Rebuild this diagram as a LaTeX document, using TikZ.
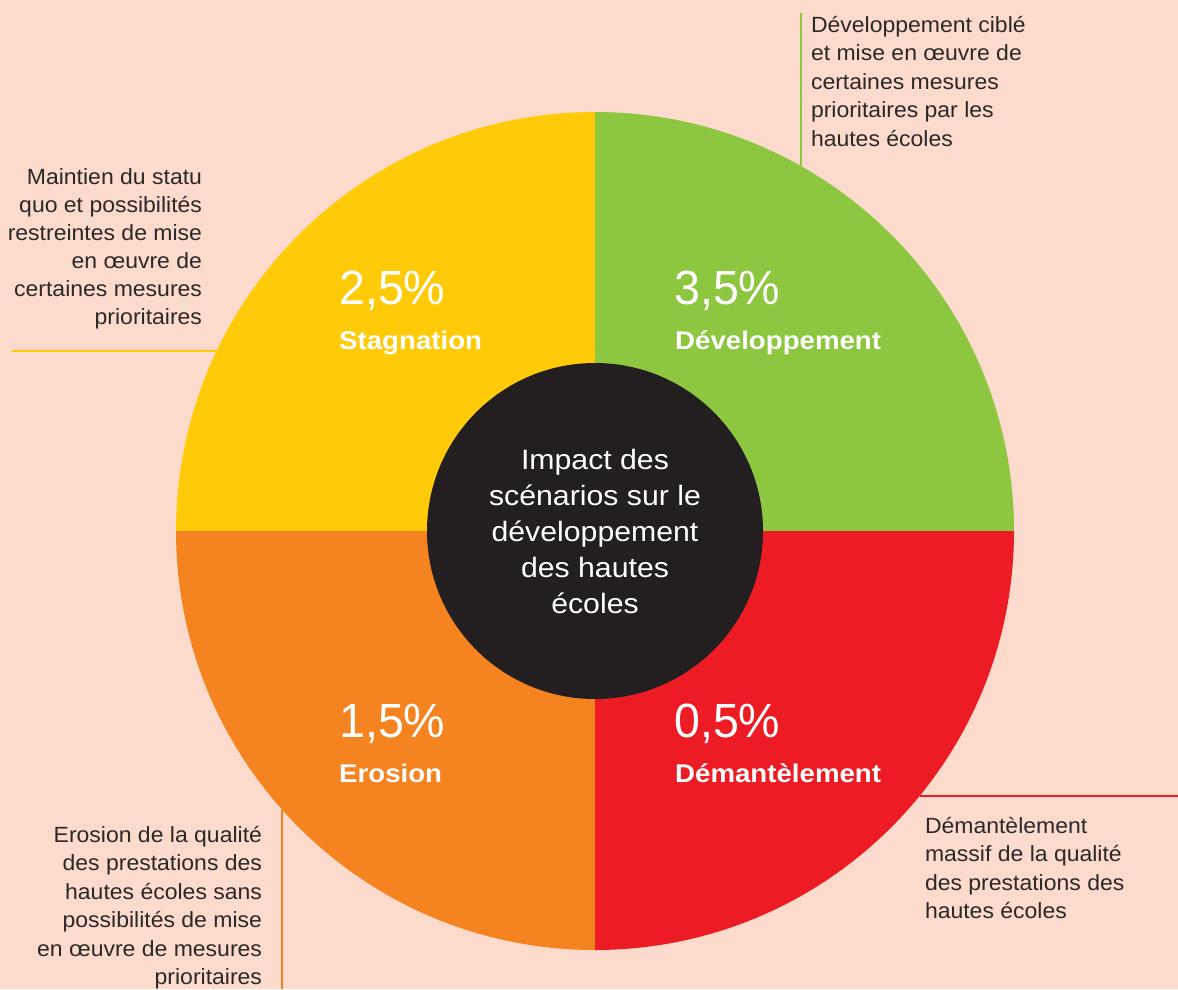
\documentclass[tikz,border=0pt]{standalone}
\usepackage{fontspec}
\setmainfont{Liberation Sans}[FakeStretch=1.08]
\newfontfamily\numfont{Liberation Sans}[FakeStretch=0.97]
\newfontfamily\descfont{Liberation Sans}[FakeStretch=1.045]
\usetikzlibrary{calc}
\definecolor{bgpeach}{HTML}{FDDBCC}
\definecolor{qyellow}{HTML}{FFCB08}
\definecolor{qgreen}{HTML}{8DC63F}
\definecolor{qred}{HTML}{ED1C24}
\definecolor{qorange}{HTML}{F58320}
\definecolor{hubblack}{HTML}{231F20}
\definecolor{txtdark}{HTML}{2A2828}
\begin{document}
\begin{tikzpicture}[x=1pt,y=1pt,
  desc/.style={inner sep=0pt, outer sep=0pt, text=txtdark, font=\descfont\fontsize{22}{28.5}\selectfont},
  pct/.style={inner sep=0pt, text=white, anchor=base west, font=\numfont\fontsize{48}{48}\selectfont},
  scen/.style={inner sep=0pt, text=white, anchor=base west, font=\bfseries\fontsize{25.6}{26}\selectfont},
  lead/.style={line width=2pt}]
\fill[bgpeach] (0,0) rectangle (1178,-989);
\useasboundingbox (0,0) rectangle (1178,-989);
\coordinate (C) at (595,-531);
% quadrants
\fill[qgreen]  (C) -- ++(419,0)  arc[start angle=0,   end angle=90,  radius=419] -- cycle;
\fill[qyellow] (C) -- ++(0,419)  arc[start angle=90,  end angle=180, radius=419] -- cycle;
\fill[qorange] (C) -- ++(-419,0) arc[start angle=180, end angle=270, radius=419] -- cycle;
\fill[qred]    (C) -- ++(0,-419) arc[start angle=270, end angle=360, radius=419] -- cycle;
% hub
\node[circle, fill=hubblack, minimum size=336pt, inner sep=0pt, text=white, align=center,
      font=\fontsize{28}{36}\selectfont] (hub) at (C)
  {Impact des\\scénarios sur le\\développement\\des hautes\\écoles};
% leader lines
\coordinate (gIn) at (801,-166);  \coordinate (gOut) at (801,-13);
\coordinate (yIn) at (217,-350.7); \coordinate (yOut) at (12,-350.7);
\coordinate (rIn) at (920,-796);  \coordinate (rOut) at (1178,-796);
\coordinate (oIn) at (282,-810);  \coordinate (oOut) at (282,-989);
\draw[lead, qgreen]  (gIn) -- (gOut);
\draw[lead, qyellow] (yIn) -- (yOut);
\draw[lead, qred]    (rIn) -- (rOut);
\draw[lead, qorange] (oIn) -- (oOut);
% descriptions
\node[desc, anchor=north west, align=left] (gtxt) at (811,-16)
  {Développement ciblé\\et mise en œuvre de\\certaines mesures\\prioritaires par les\\hautes écoles};
\node[desc, anchor=north east, align=right, font=\descfont\fontsize{22}{28}\selectfont] (ytxt) at (202,-169)
  {Maintien du statu\\quo et possibilités\\restreintes de mise\\en œuvre de\\certaines mesures\\prioritaires};
\node[desc, anchor=north west, align=left] (rtxt) at (925,-817)
  {Démantèlement\\massif de la qualité\\des prestations des\\hautes écoles};
\node[desc, anchor=north east, align=right] (otxt) at (262,-826)
  {Erosion de la qualité\\des prestations des\\hautes écoles sans\\possibilités de mise\\en œuvre de mesures\\prioritaires};
% quadrant labels
\node[pct]  (p1) at (339,-304) {2,5\%};
\node[scen] (s1) at (339,-349) {Stagnation};
\node[pct]  (p2) at (674,-304) {3,5\%};
\node[scen] (s2) at (675,-349) {Développement};
\node[pct]  (p3) at (339,-737) {1,5\%};
\node[scen] (s3) at (339,-782) {Erosion};
\node[pct]  (p4) at (674,-737) {0,5\%};
\node[scen] (s4) at (675,-782) {Démantèlement};
\end{tikzpicture}
\end{document}
